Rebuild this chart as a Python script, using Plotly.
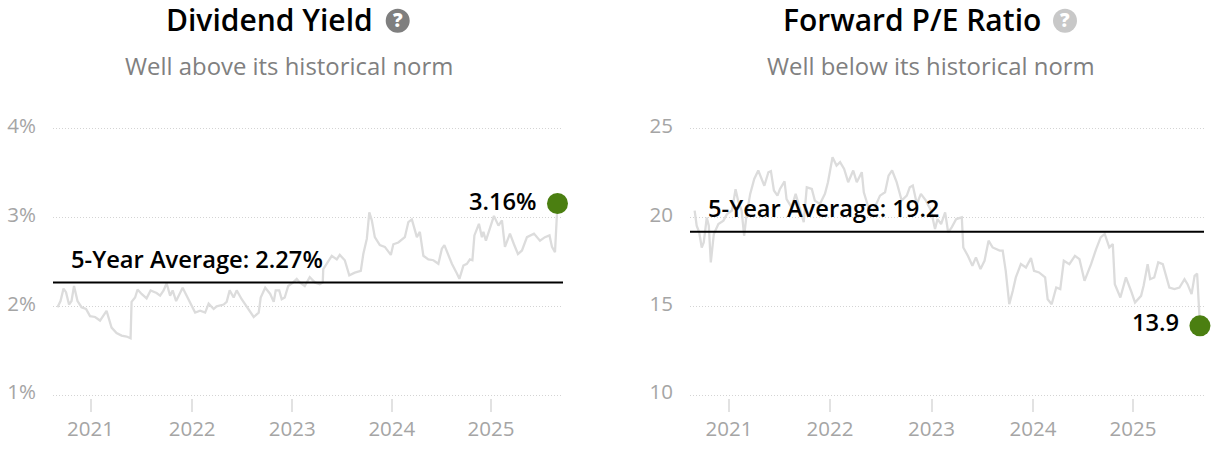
import plotly.graph_objects as go

FONT = "Open Sans"
TICK_YEARS = ["2021", "2022", "2023", "2024", "2025"]

# Dividend yield (%), x read as decimal years
DY_YEARS = [2020.67,2020.70,2020.73,2020.755,2020.785,2020.81,2020.835,2020.87,2020.91,2020.955,2020.995,2021.045,2021.095,2021.16,2021.21,2021.26,2021.31,2021.36,2021.40,2021.41,2021.445,2021.47,2021.51,2021.56,2021.60,2021.66,2021.695,2021.73,2021.76,2021.795,2021.82,2021.855,2021.92,2021.98,2022.045,2022.095,2022.145,2022.18,2022.23,2022.26,2022.33,2022.36,2022.39,2022.43,2022.46,2022.51,2022.58,2022.63,2022.68,2022.70,2022.745,2022.795,2022.83,2022.85,2022.885,2022.91,2022.94,2022.975,2023.025,2023.06,2023.09,
 2023.14,2023.19,2023.24,2023.29,2023.32,2023.325,2023.36,2023.41,2023.46,2023.49,2023.54,2023.585,2023.64,2023.70,2023.725,2023.76,2023.785,2023.81,2023.84,2023.89,2023.94,2024.00,2024.025,2024.075,2024.14,2024.175,2024.21,2024.26,2024.29,2024.325,2024.375,2024.425,2024.475,2024.51,2024.535,2024.575,2024.61,2024.66,2024.685,2024.725,2024.76,2024.79,2024.815,2024.835,2024.88,2024.91,2024.925,2024.95,2024.99,2025.03,2025.075,2025.11,2025.14,2025.19,2025.23,2025.27,2025.31,2025.36,2025.43,2025.49,2025.54,2025.585,2025.61,2025.64,2025.665]
DY_VALUES = [1.99,2.06,2.20,2.16,2.02,2.06,2.23,2.06,1.99,1.97,1.89,1.88,1.84,1.95,1.76,1.70,1.67,1.66,1.64,2.05,2.10,2.19,2.14,2.09,2.18,2.15,2.12,2.18,2.26,2.12,2.18,2.06,2.21,2.08,1.93,1.95,1.93,2.03,1.97,2.00,2.02,2.05,2.18,2.10,2.18,2.08,1.97,1.88,1.93,2.10,2.21,2.14,2.05,2.18,2.18,2.08,2.10,2.23,2.27,2.31,2.27,
 2.23,2.33,2.27,2.25,2.27,2.42,2.48,2.57,2.53,2.58,2.52,2.35,2.38,2.40,2.59,2.76,3.06,2.97,2.78,2.69,2.67,2.58,2.70,2.72,2.78,2.95,2.98,2.78,2.84,2.57,2.53,2.52,2.48,2.65,2.69,2.57,2.48,2.37,2.31,2.46,2.48,2.53,2.52,2.80,2.93,2.78,2.84,2.74,2.87,3.02,2.91,2.97,2.67,2.82,2.70,2.59,2.63,2.78,2.82,2.74,2.78,2.80,2.67,2.61,3.16]
DY_AVERAGE = 2.27
DY_TICKS = [1, 2, 3, 4]
DY_LABELS = ["1%", "2%", "3%", "4%"]
DY_TICK_POS = [2021, 2022.015, 2023.015, 2024.01, 2025]

# Forward P/E, x read as decimal years
PE_YEARS = [2020.66,2020.68,2020.705,2020.73,2020.75,2020.78,2020.80,2020.82,2020.85,2020.895,2020.945,2020.98,2021.03,2021.065,2021.09,2021.125,2021.15,2021.175,2021.21,2021.25,2021.29,2021.325,2021.35,2021.39,2021.415,2021.445,2021.48,2021.505,2021.55,2021.57,2021.62,2021.66,2021.70,2021.74,2021.77,2021.82,2021.85,2021.90,2021.95,2021.98,2022.025,2022.065,2022.10,2022.14,2022.18,2022.23,2022.265,2022.315,2022.335,2022.38,2022.43,2022.495,2022.545,2022.58,2022.615,2022.66,2022.71,2022.76,2022.79,2022.82,2022.86,
 2022.90,2022.95,2023.00,2023.04,2023.065,2023.10,2023.14,2023.17,2023.205,2023.25,2023.305,2023.32,2023.365,2023.41,2023.445,2023.49,2023.53,2023.57,2023.61,2023.68,2023.71,2023.74,2023.775,2023.81,2023.84,2023.89,2023.94,2023.99,2024.02,2024.07,2024.13,2024.155,2024.195,2024.24,2024.28,2024.315,2024.37,2024.425,2024.47,2024.52,2024.585,2024.635,2024.68,2024.72,2024.765,2024.80,2024.82,2024.875,2024.93,2024.98,2025.02,2025.08,2025.105,2025.145,2025.17,2025.21,2025.25,2025.295,2025.33,2025.36,2025.41,2025.46,2025.51,2025.54,2025.58,2025.61,2025.635,2025.65,2025.663]
PE_VALUES = [20.4,19.55,19.17,18.32,18.6,20.0,19.55,17.48,19.08,19.64,19.83,20.2,20.4,21.6,20.96,20.4,18.98,20.2,21.34,22.18,22.66,22.09,21.8,22.56,22.62,21.53,21.24,21.62,22.05,21.05,20.58,21.34,20.58,19.74,21.71,21.62,20.96,20.77,21.34,22.0,23.41,22.94,23.13,22.75,22.0,22.66,22.0,22.56,21.43,20.58,20.4,21.24,21.43,22.37,22.66,22.0,20.96,21.24,21.71,21.81,20.77,
 21.34,20.96,20.4,19.36,19.92,19.64,20.3,19.17,19.45,19.92,20.02,18.32,17.85,17.29,17.76,17.1,17.57,18.7,18.32,18.14,18.14,17.0,15.12,15.88,16.63,17.38,17.19,17.72,17.0,16.91,16.63,15.4,15.12,16.06,15.97,17.57,17.38,17.85,17.66,16.44,17.38,18.23,18.89,19.08,18.32,18.51,16.25,15.5,16.63,15.88,15.22,15.59,16.16,17.38,16.53,16.63,17.48,17.38,16.72,16.06,15.97,16.06,16.53,16.25,15.69,16.72,16.85,14.93,13.9]
PE_AVERAGE = 19.2
PE_TICKS = [10, 15, 20, 25]
PE_LABELS = ["10", "15", "20", "25"]
PE_TICK_POS = [2021, 2022, 2023.005, 2024.01, 2025]

assert len(DY_YEARS) == len(DY_VALUES), (len(DY_YEARS), len(DY_VALUES))
assert len(PE_YEARS) == len(PE_VALUES), (len(PE_YEARS), len(PE_VALUES))

W, H = 1221, 452
LINE = "#dcdcdc"
GREEN = "#4b7f11"
GRID = "#d4d4d4"
TICKTXT = "#a5a5a5"

def px(x): return x / W
def py(y): return 1 - y / H

fig = go.Figure()
for i, (xs, ys) in enumerate([(DY_YEARS, DY_VALUES), (PE_YEARS, PE_VALUES)]):
    ax = "x" if i == 0 else "x2"
    ay = "y" if i == 0 else "y2"
    fig.add_trace(go.Scatter(x=xs, y=ys, xaxis=ax, yaxis=ay, mode="lines",
                             line=dict(color=LINE, width=2.3), hoverinfo="skip", showlegend=False))
    fig.add_trace(go.Scatter(x=xs[-1:], y=ys[-1:], xaxis=ax, yaxis=ay, mode="markers",
                             marker=dict(color=GREEN, size=21), cliponaxis=False,
                             hoverinfo="skip", showlegend=False))

common_x = dict(showgrid=False, zeroline=False, showline=False, ticks="outside", ticklen=13,
                tickwidth=2, tickcolor="#e2e2e2", ticktext=TICK_YEARS,
                tickfont=dict(family=FONT, size=20.5, color=TICKTXT), tickmode="array")
common_y = dict(showgrid=True, gridcolor=GRID, griddash="1px,2px", gridwidth=1, zeroline=False,
                showline=False, ticks="", ticklabelstandoff=16, ticklabelshift=-3, tickmode="array",
                tickfont=dict(family=FONT, size=20.5, color=TICKTXT))
TOP, BOTTOM = 126.3, 397.7

def title(x, text):
    return dict(x=px(x), y=py(20), xref="paper", yref="paper", text=text, showarrow=False,
                xanchor="center", yanchor="middle",
                font=dict(family=FONT, size=30, color="#000000", weight=600))
def sub(x, text):
    return dict(x=px(x), y=py(65), xref="paper", yref="paper", text=text, showarrow=False,
                xanchor="center", yanchor="middle", font=dict(family=FONT, size=23.9, color="#808080"))
def lab(x, y, text, anchor):
    return dict(x=px(x), y=py(y), xref="paper", yref="paper", text=text, showarrow=False,
                xanchor=anchor, yanchor="middle", borderpad=0,
                font=dict(family=FONT, size=23.7, color="#000000", weight=600))
def qmark(x, text_color="#ffffff"):
    return dict(x=px(x), y=py(20.5), xref="paper", yref="paper", text="?", showarrow=False,
                xanchor="center", yanchor="middle",
                font=dict(family=FONT, size=19, color=text_color, weight=800))
def circle(x, color):
    return dict(type="circle", xref="paper", yref="paper", x0=px(x - 12), x1=px(x + 12),
                y0=py(20.7 + 12), y1=py(20.7 - 12), fillcolor=color, line=dict(width=0))

fig.update_layout(
    width=W, height=H, margin=dict(l=0, r=0, t=0, b=0, autoexpand=False),
    paper_bgcolor="#ffffff", plot_bgcolor="#ffffff", showlegend=False,
    xaxis=dict(domain=[px(53), px(563)], range=[2020.625, 2025.72], tickvals=DY_TICK_POS, **common_x),
    yaxis=dict(domain=[py(BOTTOM), py(TOP)], range=[0.97, 4.03], tickvals=DY_TICKS, ticktext=DY_LABELS, **common_y),
    xaxis2=dict(domain=[px(690), px(1204)], range=[2020.614, 2025.703], tickvals=PE_TICK_POS, anchor="y2", **common_x),
    yaxis2=dict(domain=[py(BOTTOM), py(TOP)], range=[9.85, 25.15], tickvals=PE_TICKS, ticktext=PE_LABELS, anchor="x2", **common_y),
    shapes=[
        dict(type="line", xref="x domain", yref="y", x0=0, x1=1, y0=DY_AVERAGE, y1=DY_AVERAGE,
             line=dict(color="#000000", width=2)),
        dict(type="line", xref="x2 domain", yref="y2", x0=0, x1=1, y0=PE_AVERAGE, y1=PE_AVERAGE,
             line=dict(color="#000000", width=2)),
        circle(397.7, "#7f7f7f"),
        circle(1065, "#c8c8c8"),
    ],
    annotations=[
        title(269.5, "Dividend Yield"),
        title(911.5, "Forward P/E Ratio"),
        sub(288.5, "Well above its historical norm"),
        sub(931, "Well below its historical norm"),
        qmark(397.7), qmark(1065),
        lab(70, 258.5, "5-Year Average: 2.27%", "left"),
        lab(707, 208, "5-Year Average: 19.2", "left"),
        lab(537.5, 201, "3.16%", "right"),
        lab(1180, 322, "13.9", "right"),
    ],
)

fig.write_html("out.html", config={"displayModeBar": False},
               post_script="document.body.style.margin='0';document.body.style.overflow='hidden';")
